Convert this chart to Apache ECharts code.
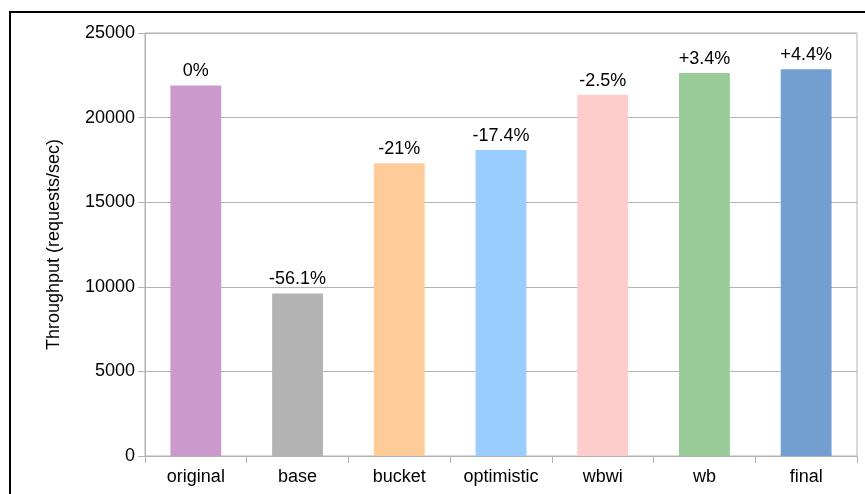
<!DOCTYPE html>
<html>
<head>
<meta charset="utf-8">
<script src="https://cdn.jsdelivr.net/npm/echarts@6/dist/echarts.min.js"></script>
<style>
  html, body { margin: 0; padding: 0; background: #fff; }
  #chart { width: 865px; height: 494px; }
</style>
</head>
<body>
<div id="chart"></div>
<script>
// data
const categories = ["original", "base", "bucket", "optimistic", "wbwi", "wb", "final"];
const throughput = [21900, 9610, 17300, 18090, 21350, 22640, 22860];
const changeLabels = ["0%", "-56.1%", "-21%", "-17.4%", "-2.5%", "+3.4%", "+4.4%"];
const barColors = ["#cc99cc", "#b3b3b3", "#ffcc99", "#99ccff", "#ffcccc", "#99cc99", "#729fcf"];

const chart = echarts.init(document.getElementById("chart"));
const font = "Liberation Sans, Arial, sans-serif";
const gray = "#b3b3b3";

chart.setOption({
  animation: false,
  textStyle: { fontFamily: font },
  graphic: [
    {
      type: "rect",
      shape: { x: 10, y: 12, width: 1000, height: 1000 },
      style: { fill: "none", stroke: "#000", lineWidth: 2 },
      silent: true,
    },
  ],
  grid: {
    left: 145, top: 33, right: 8, bottom: 38,
    show: true, borderColor: gray, borderWidth: 1,
  },
  xAxis: {
    type: "category",
    data: categories,
    axisLine: { lineStyle: { color: gray } },
    axisTick: { show: true, length: 7, lineStyle: { color: gray } },
    axisLabel: { color: "#000", fontSize: 18, margin: 12, fontFamily: font },
  },
  yAxis: {
    type: "value",
    min: 0, max: 25000, interval: 5000,
    name: "Throughput (requests/sec)",
    nameLocation: "middle",
    nameGap: 82,
    nameTextStyle: { color: "#000", fontSize: 18, fontFamily: font },
    axisLine: { show: true, lineStyle: { color: gray } },
    axisTick: { show: true, length: 7, lineStyle: { color: gray } },
    axisLabel: {
      color: "#000", fontSize: 18, margin: 10, fontFamily: font,
      formatter: (v) => String(v),
    },
    splitLine: { lineStyle: { color: gray } },
  },
  series: [
    {
      type: "bar",
      barWidth: "50%",
      data: throughput.map((v, i) => ({ value: v, itemStyle: { color: barColors[i] } })),
      label: {
        show: true,
        position: "top",
        distance: 5,
        color: "#000",
        fontSize: 18,
        fontFamily: font,
        formatter: (p) => changeLabels[p.dataIndex],
      },
    },
  ],
});
</script>
</body>
</html>
